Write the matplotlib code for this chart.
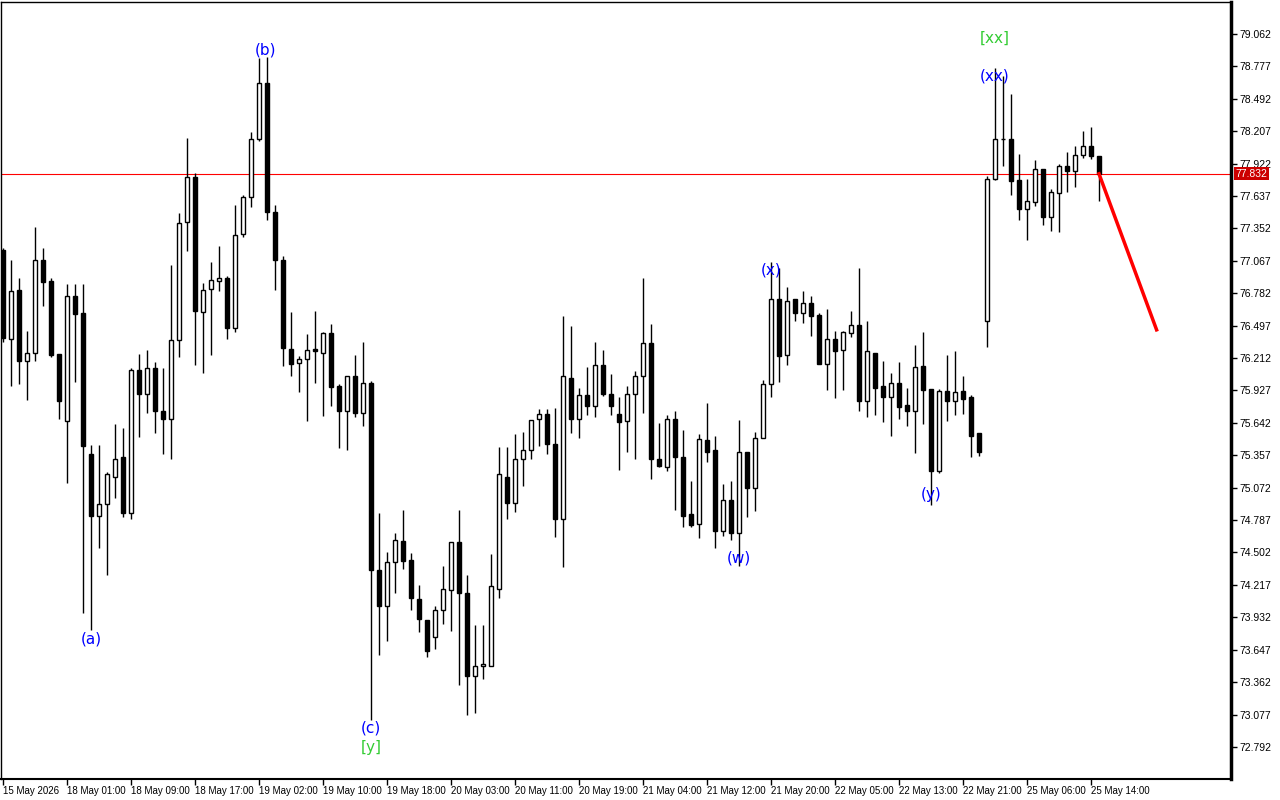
#!/usr/bin/env python3
"""
Hourly candlestick chart with wave labels, MT4 style.
"""

import matplotlib
matplotlib.use("Agg")
import matplotlib.pyplot as plt
from matplotlib.patches import Rectangle

# candle data, one entry per hourly bar
opens = [77.16, 76.38, 76.81, 76.19, 76.26, 77.07, 76.89, 76.25, 75.66, 76.76,
         76.61, 75.37, 74.82, 74.93, 75.17, 75.34, 74.85, 76.11, 75.90, 76.12,
         75.75, 75.68, 76.37, 77.41, 77.80, 76.62, 76.82, 76.89, 76.92, 76.48,
         77.30, 77.63, 78.14, 78.63, 77.50, 77.07, 76.29, 76.17, 76.20, 76.29,
         76.26, 76.43, 75.97, 75.75, 76.05, 75.73, 75.99, 74.35, 74.03, 74.42,
         74.60, 74.44, 74.09, 73.91, 73.76, 74.00, 74.17, 74.59, 74.15, 73.42,
         73.50, 73.50, 74.18, 75.17, 74.94, 75.32, 75.40, 75.68, 75.72, 75.46,
         74.80, 76.04, 75.68, 75.89, 75.79, 76.15, 75.90, 75.72, 75.66, 75.90,
         76.05, 76.34, 75.32, 75.25, 75.68, 75.34, 74.84, 74.75, 75.49, 75.40,
         74.69, 74.96, 74.67, 75.39, 75.07, 75.51, 75.98, 76.73, 76.24, 76.73,
         76.61, 76.70, 76.59, 76.16, 76.38, 76.28, 76.43, 76.50, 75.83, 76.26,
         75.97, 75.87, 75.99, 75.80, 75.75, 76.14, 75.94, 75.22, 75.92, 75.83,
         75.92, 75.87, 75.55, 76.54, 77.79, 78.14, 78.14, 77.78, 77.52, 77.58,
         77.87, 77.45, 77.66, 77.90, 77.86, 78.00, 78.08, 77.99]
highs = [77.18, 77.07, 76.92, 76.45, 77.36, 77.18, 76.92, 76.25, 76.86, 76.86,
         76.86, 75.45, 75.45, 75.21, 75.63, 75.60, 76.12, 76.25, 76.28, 76.18,
         76.12, 77.03, 77.49, 78.15, 77.84, 76.87, 77.06, 77.20, 76.93, 77.56,
         77.65, 78.20, 78.85, 78.86, 77.56, 77.11, 76.62, 76.23, 76.42, 76.63,
         76.44, 76.51, 75.98, 76.05, 76.24, 76.35, 76.01, 74.85, 74.51, 74.67,
         74.88, 74.50, 74.22, 73.91, 74.03, 74.38, 74.59, 74.88, 74.30, 73.86,
         73.86, 74.49, 75.43, 75.43, 75.54, 75.56, 75.67, 75.76, 75.76, 75.77,
         76.58, 76.49, 75.95, 76.13, 76.35, 76.28, 76.07, 75.87, 75.97, 76.10,
         76.92, 76.51, 75.64, 75.71, 75.75, 75.58, 75.13, 75.54, 75.82, 75.53,
         75.10, 75.13, 75.67, 75.39, 75.56, 76.02, 77.06, 77.00, 76.84, 76.73,
         76.80, 76.76, 76.61, 76.64, 76.45, 76.45, 76.63, 77.00, 76.54, 76.26,
         76.19, 76.08, 76.18, 75.95, 76.33, 76.44, 75.94, 75.94, 76.24, 76.27,
         76.05, 75.89, 75.55, 77.81, 78.76, 78.69, 78.53, 78.01, 77.79, 77.95,
         77.87, 77.70, 77.92, 78.02, 78.08, 78.21, 78.24, 77.99]
lows = [76.35, 75.97, 75.98, 75.84, 76.19, 76.67, 76.22, 75.68, 75.11, 76.00,
        73.97, 73.82, 74.54, 74.30, 74.98, 74.81, 74.80, 75.52, 75.73, 75.55,
        75.37, 75.32, 76.22, 77.15, 76.15, 76.08, 76.24, 76.80, 76.38, 76.44,
        77.28, 77.54, 78.12, 77.43, 76.81, 76.14, 76.05, 75.91, 75.66, 75.99,
        75.70, 75.79, 75.42, 75.40, 75.69, 75.61, 73.03, 73.60, 73.72, 74.15,
        74.36, 74.00, 73.80, 73.58, 73.65, 73.87, 73.81, 73.34, 73.07, 73.09,
        73.39, 73.50, 74.10, 74.80, 74.86, 75.09, 75.32, 75.44, 75.37, 74.64,
        74.37, 75.55, 75.51, 75.71, 75.69, 75.88, 75.71, 75.23, 75.39, 75.32,
        75.73, 75.15, 75.25, 75.22, 74.88, 74.73, 74.73, 74.63, 75.30, 74.54,
        74.65, 74.61, 74.38, 74.81, 74.87, 75.51, 75.87, 76.00, 76.15, 76.54,
        76.52, 76.41, 76.16, 75.93, 75.86, 75.93, 76.40, 75.75, 75.69, 75.71,
        75.65, 75.53, 75.68, 75.61, 75.38, 75.63, 74.92, 75.20, 75.66, 75.71,
        75.72, 75.34, 75.35, 76.31, 77.78, 77.90, 77.65, 77.43, 77.25, 77.55,
        77.38, 77.33, 77.32, 77.67, 77.72, 77.97, 77.96, 77.59]
closes = [76.39, 76.80, 76.19, 76.26, 77.07, 76.88, 76.24, 75.83, 76.76, 76.60,
          75.44, 74.82, 74.93, 75.19, 75.32, 74.85, 76.11, 75.90, 76.12, 75.75,
          75.68, 76.37, 77.40, 77.80, 76.63, 76.81, 76.90, 76.92, 76.48, 77.29,
          77.63, 78.14, 78.63, 77.50, 77.07, 76.30, 76.16, 76.20, 76.28, 76.27,
          76.43, 75.96, 75.75, 76.05, 75.73, 75.99, 74.35, 74.03, 74.42, 74.61,
          74.43, 74.10, 73.92, 73.64, 74.00, 74.18, 74.59, 74.15, 73.42, 73.50,
          73.52, 74.21, 75.19, 74.94, 75.32, 75.40, 75.67, 75.72, 75.46, 74.80,
          76.05, 75.68, 75.89, 75.79, 76.15, 75.90, 75.79, 75.65, 75.90, 76.05,
          76.34, 75.32, 75.26, 75.68, 75.34, 74.82, 74.74, 75.50, 75.39, 74.69,
          74.96, 74.67, 75.39, 75.07, 75.51, 75.98, 76.73, 76.23, 76.71, 76.61,
          76.70, 76.58, 76.16, 76.38, 76.27, 76.44, 76.50, 75.83, 76.27, 75.95,
          75.87, 75.99, 75.78, 75.75, 76.13, 75.93, 75.22, 75.92, 75.83, 75.91,
          75.85, 75.53, 75.39, 77.79, 78.14, 78.14, 77.77, 77.52, 77.59, 77.87,
          77.45, 77.67, 77.90, 77.86, 78.00, 78.08, 77.99, 77.832]

# time axis labels, one every 8 bars
time_labels = ["15 May 2026", "18 May 01:00", "18 May 09:00", "18 May 17:00",
               "19 May 02:00", "19 May 10:00", "19 May 18:00", "20 May 03:00",
               "20 May 11:00", "20 May 19:00", "21 May 04:00", "21 May 12:00",
               "21 May 20:00", "22 May 05:00", "22 May 13:00", "22 May 21:00",
               "25 May 06:00", "25 May 14:00"]
price_ticks = [79.062, 78.777, 78.492, 78.207, 77.922, 77.637, 77.352, 77.067,
               76.782, 76.497, 76.212, 75.927, 75.642, 75.357, 75.072, 74.787,
               74.502, 74.217, 73.932, 73.647, 73.362, 73.077, 72.792]
current_price = 77.832

# wave labels: (text, bar index, price, colour)
wave_labels = [("(a)", 11, 73.74, "blue"), ("(b)", 32.75, 78.92, "blue"),
               ("(c)", 46, 72.96, "blue"), ("[y]", 46, 72.79, "#33cc33"),
               ("(w)", 92, 74.45, "blue"), ("(x)", 96, 76.99, "blue"),
               ("(y)", 116, 75.01, "blue"), ("(xx)", 124, 78.69, "blue"),
               ("[xx]", 124, 79.02, "#33cc33")]

# forecast line from the last close
forecast_x = [137, 144.2]
forecast_y = [current_price, 76.46]

fig = plt.figure(figsize=(12.8, 8), dpi=100)
ax = fig.add_axes([1 / 1280, 21 / 800, 1230 / 1280, 777 / 800])

body_w = 0.6
for i, (o, h, l, c) in enumerate(zip(opens, highs, lows, closes)):
    ax.vlines(i, l, h, color="black", lw=1, zorder=2)
    if abs(c - o) < 0.004:
        ax.hlines(o, i - body_w / 2, i + body_w / 2, color="black", lw=1, zorder=3)
        continue
    face = "white" if c > o else "black"
    ax.add_patch(Rectangle((i - body_w / 2, min(o, c)), body_w, abs(c - o),
                           facecolor=face, edgecolor="black", lw=1, zorder=3))

ax.axhline(current_price, color="red", lw=0.8, zorder=1)
ax.plot(forecast_x, forecast_y, color="red", lw=2.5, zorder=4)

for txt, xi, yv, col in wave_labels:
    ax.text(xi, yv, txt, color=col, fontsize=11, ha="center", va="center", zorder=5)

ax.set_xlim(-0.25, 153.5)
ax.set_ylim(72.51, 79.343)

ax.set_xticks(range(0, 8 * len(time_labels), 8))
ax.set_xticklabels(time_labels, fontfamily="Liberation Sans", fontsize=7)
for lbl in ax.get_xticklabels():
    lbl.set_horizontalalignment("left")
ax.tick_params(axis="x", length=4, width=1, pad=1)

ax.yaxis.tick_right()
ax.set_yticks(price_ticks)
ax.set_yticklabels([f"{p:.3f}" for p in price_ticks], fontfamily="Liberation Sans", fontsize=7.5)
ax.tick_params(axis="y", length=4, width=1, pad=2)

for side in ["left", "top"]:
    ax.spines[side].set_linewidth(1)
ax.spines["bottom"].set_linewidth(1.5)
ax.spines["right"].set_linewidth(2.5)

# current price tag on the axis
ax.text(1.004, current_price, f"{current_price:.3f}", transform=ax.get_yaxis_transform(),
        fontsize=7.5, fontfamily="Liberation Sans", color="white", va="center", ha="left",
        zorder=6, bbox=dict(boxstyle="square,pad=0.15", facecolor="#cc0000", edgecolor="none"))

fig.savefig("out.png", dpi=100)
